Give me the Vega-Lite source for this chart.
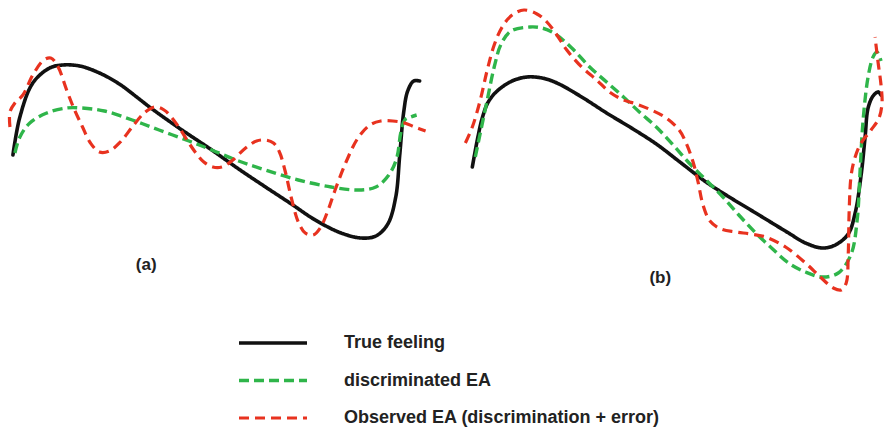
{
  "$schema": "https://vega.github.io/schema/vega-lite/v6.json",
  "width": 889,
  "height": 428,
  "autosize": {"type": "fit", "contains": "padding"},
  "padding": 0,
  "background": "white",
  "config": {"view": {"stroke": null}},
  "datasets": {
    "curves": [
      {"panel":"a","series":"True feeling","i":1,"x":13,"y":155},
      {"panel":"a","series":"True feeling","i":2,"x":20,"y":117},
      {"panel":"a","series":"True feeling","i":3,"x":33,"y":83},
      {"panel":"a","series":"True feeling","i":4,"x":50,"y":68},
      {"panel":"a","series":"True feeling","i":5,"x":63,"y":65},
      {"panel":"a","series":"True feeling","i":6,"x":80,"y":66},
      {"panel":"a","series":"True feeling","i":7,"x":100,"y":73},
      {"panel":"a","series":"True feeling","i":8,"x":120,"y":84},
      {"panel":"a","series":"True feeling","i":9,"x":140,"y":99},
      {"panel":"a","series":"True feeling","i":10,"x":153,"y":109},
      {"panel":"a","series":"True feeling","i":11,"x":180,"y":128},
      {"panel":"a","series":"True feeling","i":12,"x":213,"y":150},
      {"panel":"a","series":"True feeling","i":13,"x":240,"y":169},
      {"panel":"a","series":"True feeling","i":14,"x":267,"y":187},
      {"panel":"a","series":"True feeling","i":15,"x":293,"y":204},
      {"panel":"a","series":"True feeling","i":16,"x":317,"y":220},
      {"panel":"a","series":"True feeling","i":17,"x":343,"y":233},
      {"panel":"a","series":"True feeling","i":18,"x":363,"y":238},
      {"panel":"a","series":"True feeling","i":19,"x":378,"y":236},
      {"panel":"a","series":"True feeling","i":20,"x":390,"y":224},
      {"panel":"a","series":"True feeling","i":21,"x":398,"y":197},
      {"panel":"a","series":"True feeling","i":22,"x":402,"y":155},
      {"panel":"a","series":"True feeling","i":23,"x":406,"y":112},
      {"panel":"a","series":"True feeling","i":24,"x":410,"y":91},
      {"panel":"a","series":"True feeling","i":25,"x":416,"y":81},
      {"panel":"a","series":"True feeling","i":26,"x":422,"y":81},
      {"panel":"a","series":"discriminated EA","i":1,"x":15,"y":153},
      {"panel":"a","series":"discriminated EA","i":2,"x":20,"y":137},
      {"panel":"a","series":"discriminated EA","i":3,"x":30,"y":123},
      {"panel":"a","series":"discriminated EA","i":4,"x":47,"y":113},
      {"panel":"a","series":"discriminated EA","i":5,"x":67,"y":108},
      {"panel":"a","series":"discriminated EA","i":6,"x":82,"y":108},
      {"panel":"a","series":"discriminated EA","i":7,"x":105,"y":111},
      {"panel":"a","series":"discriminated EA","i":8,"x":133,"y":120},
      {"panel":"a","series":"discriminated EA","i":9,"x":160,"y":130},
      {"panel":"a","series":"discriminated EA","i":10,"x":190,"y":141},
      {"panel":"a","series":"discriminated EA","i":11,"x":213,"y":150},
      {"panel":"a","series":"discriminated EA","i":12,"x":240,"y":161},
      {"panel":"a","series":"discriminated EA","i":13,"x":267,"y":170},
      {"panel":"a","series":"discriminated EA","i":14,"x":300,"y":180},
      {"panel":"a","series":"discriminated EA","i":15,"x":333,"y":187},
      {"panel":"a","series":"discriminated EA","i":16,"x":360,"y":190},
      {"panel":"a","series":"discriminated EA","i":17,"x":378,"y":187},
      {"panel":"a","series":"discriminated EA","i":18,"x":391,"y":175},
      {"panel":"a","series":"discriminated EA","i":19,"x":399,"y":158},
      {"panel":"a","series":"discriminated EA","i":20,"x":403,"y":133},
      {"panel":"a","series":"discriminated EA","i":21,"x":407,"y":120},
      {"panel":"a","series":"discriminated EA","i":22,"x":413,"y":117},
      {"panel":"a","series":"discriminated EA","i":23,"x":419,"y":115},
      {"panel":"a","series":"Observed EA (discrimination + error)","i":1,"x":10,"y":127},
      {"panel":"a","series":"Observed EA (discrimination + error)","i":2,"x":10,"y":112},
      {"panel":"a","series":"Observed EA (discrimination + error)","i":3,"x":15,"y":103},
      {"panel":"a","series":"Observed EA (discrimination + error)","i":4,"x":23,"y":95},
      {"panel":"a","series":"Observed EA (discrimination + error)","i":5,"x":33,"y":75},
      {"panel":"a","series":"Observed EA (discrimination + error)","i":6,"x":44,"y":60},
      {"panel":"a","series":"Observed EA (discrimination + error)","i":7,"x":51,"y":58},
      {"panel":"a","series":"Observed EA (discrimination + error)","i":8,"x":58,"y":66},
      {"panel":"a","series":"Observed EA (discrimination + error)","i":9,"x":67,"y":90},
      {"panel":"a","series":"Observed EA (discrimination + error)","i":10,"x":75,"y":110},
      {"panel":"a","series":"Observed EA (discrimination + error)","i":11,"x":83,"y":127},
      {"panel":"a","series":"Observed EA (discrimination + error)","i":12,"x":91,"y":143},
      {"panel":"a","series":"Observed EA (discrimination + error)","i":13,"x":100,"y":152},
      {"panel":"a","series":"Observed EA (discrimination + error)","i":14,"x":110,"y":151},
      {"panel":"a","series":"Observed EA (discrimination + error)","i":15,"x":121,"y":142},
      {"panel":"a","series":"Observed EA (discrimination + error)","i":16,"x":133,"y":127},
      {"panel":"a","series":"Observed EA (discrimination + error)","i":17,"x":145,"y":113},
      {"panel":"a","series":"Observed EA (discrimination + error)","i":18,"x":156,"y":107},
      {"panel":"a","series":"Observed EA (discrimination + error)","i":19,"x":165,"y":110},
      {"panel":"a","series":"Observed EA (discrimination + error)","i":20,"x":173,"y":118},
      {"panel":"a","series":"Observed EA (discrimination + error)","i":21,"x":181,"y":129},
      {"panel":"a","series":"Observed EA (discrimination + error)","i":22,"x":190,"y":143},
      {"panel":"a","series":"Observed EA (discrimination + error)","i":23,"x":197,"y":153},
      {"panel":"a","series":"Observed EA (discrimination + error)","i":24,"x":205,"y":162},
      {"panel":"a","series":"Observed EA (discrimination + error)","i":25,"x":214,"y":167},
      {"panel":"a","series":"Observed EA (discrimination + error)","i":26,"x":223,"y":167},
      {"panel":"a","series":"Observed EA (discrimination + error)","i":27,"x":233,"y":161},
      {"panel":"a","series":"Observed EA (discrimination + error)","i":28,"x":247,"y":148},
      {"panel":"a","series":"Observed EA (discrimination + error)","i":29,"x":258,"y":141},
      {"panel":"a","series":"Observed EA (discrimination + error)","i":30,"x":267,"y":140},
      {"panel":"a","series":"Observed EA (discrimination + error)","i":31,"x":275,"y":143},
      {"panel":"a","series":"Observed EA (discrimination + error)","i":32,"x":281,"y":152},
      {"panel":"a","series":"Observed EA (discrimination + error)","i":33,"x":287,"y":172},
      {"panel":"a","series":"Observed EA (discrimination + error)","i":34,"x":293,"y":198},
      {"panel":"a","series":"Observed EA (discrimination + error)","i":35,"x":300,"y":222},
      {"panel":"a","series":"Observed EA (discrimination + error)","i":36,"x":307,"y":233},
      {"panel":"a","series":"Observed EA (discrimination + error)","i":37,"x":315,"y":235},
      {"panel":"a","series":"Observed EA (discrimination + error)","i":38,"x":322,"y":228},
      {"panel":"a","series":"Observed EA (discrimination + error)","i":39,"x":330,"y":210},
      {"panel":"a","series":"Observed EA (discrimination + error)","i":40,"x":337,"y":190},
      {"panel":"a","series":"Observed EA (discrimination + error)","i":41,"x":348,"y":162},
      {"panel":"a","series":"Observed EA (discrimination + error)","i":42,"x":360,"y":138},
      {"panel":"a","series":"Observed EA (discrimination + error)","i":43,"x":372,"y":125},
      {"panel":"a","series":"Observed EA (discrimination + error)","i":44,"x":383,"y":121},
      {"panel":"a","series":"Observed EA (discrimination + error)","i":45,"x":395,"y":121},
      {"panel":"a","series":"Observed EA (discrimination + error)","i":46,"x":407,"y":123},
      {"panel":"a","series":"Observed EA (discrimination + error)","i":47,"x":417,"y":127},
      {"panel":"a","series":"Observed EA (discrimination + error)","i":48,"x":428,"y":131},
      {"panel":"b","series":"True feeling","i":1,"x":475,"y":167},
      {"panel":"b","series":"True feeling","i":2,"x":480,"y":140},
      {"panel":"b","series":"True feeling","i":3,"x":485,"y":118},
      {"panel":"b","series":"True feeling","i":4,"x":491,"y":102},
      {"panel":"b","series":"True feeling","i":5,"x":500,"y":91},
      {"panel":"b","series":"True feeling","i":6,"x":515,"y":81},
      {"panel":"b","series":"True feeling","i":7,"x":530,"y":77},
      {"panel":"b","series":"True feeling","i":8,"x":545,"y":78},
      {"panel":"b","series":"True feeling","i":9,"x":560,"y":83},
      {"panel":"b","series":"True feeling","i":10,"x":585,"y":97},
      {"panel":"b","series":"True feeling","i":11,"x":610,"y":113},
      {"panel":"b","series":"True feeling","i":12,"x":635,"y":128},
      {"panel":"b","series":"True feeling","i":13,"x":660,"y":144},
      {"panel":"b","series":"True feeling","i":14,"x":685,"y":163},
      {"panel":"b","series":"True feeling","i":15,"x":710,"y":182},
      {"panel":"b","series":"True feeling","i":16,"x":735,"y":198},
      {"panel":"b","series":"True feeling","i":17,"x":760,"y":213},
      {"panel":"b","series":"True feeling","i":18,"x":793,"y":233},
      {"panel":"b","series":"True feeling","i":19,"x":810,"y":243},
      {"panel":"b","series":"True feeling","i":20,"x":827,"y":248},
      {"panel":"b","series":"True feeling","i":21,"x":840,"y":245},
      {"panel":"b","series":"True feeling","i":22,"x":853,"y":234},
      {"panel":"b","series":"True feeling","i":23,"x":860,"y":213},
      {"panel":"b","series":"True feeling","i":24,"x":866,"y":175},
      {"panel":"b","series":"True feeling","i":25,"x":870,"y":137},
      {"panel":"b","series":"True feeling","i":26,"x":873,"y":108},
      {"panel":"b","series":"True feeling","i":27,"x":878,"y":96},
      {"panel":"b","series":"True feeling","i":28,"x":883,"y":92},
      {"panel":"b","series":"True feeling","i":29,"x":886,"y":95},
      {"panel":"b","series":"discriminated EA","i":1,"x":478,"y":157},
      {"panel":"b","series":"discriminated EA","i":2,"x":483,"y":133},
      {"panel":"b","series":"discriminated EA","i":3,"x":490,"y":100},
      {"panel":"b","series":"discriminated EA","i":4,"x":497,"y":67},
      {"panel":"b","series":"discriminated EA","i":5,"x":504,"y":44},
      {"panel":"b","series":"discriminated EA","i":6,"x":514,"y":31},
      {"panel":"b","series":"discriminated EA","i":7,"x":533,"y":27},
      {"panel":"b","series":"discriminated EA","i":8,"x":545,"y":28},
      {"panel":"b","series":"discriminated EA","i":9,"x":557,"y":33},
      {"panel":"b","series":"discriminated EA","i":10,"x":575,"y":48},
      {"panel":"b","series":"discriminated EA","i":11,"x":593,"y":67},
      {"panel":"b","series":"discriminated EA","i":12,"x":610,"y":82},
      {"panel":"b","series":"discriminated EA","i":13,"x":627,"y":97},
      {"panel":"b","series":"discriminated EA","i":14,"x":643,"y":112},
      {"panel":"b","series":"discriminated EA","i":15,"x":660,"y":127},
      {"panel":"b","series":"discriminated EA","i":16,"x":677,"y":145},
      {"panel":"b","series":"discriminated EA","i":17,"x":693,"y":163},
      {"panel":"b","series":"discriminated EA","i":18,"x":710,"y":180},
      {"panel":"b","series":"discriminated EA","i":19,"x":727,"y":197},
      {"panel":"b","series":"discriminated EA","i":20,"x":743,"y":215},
      {"panel":"b","series":"discriminated EA","i":21,"x":760,"y":233},
      {"panel":"b","series":"discriminated EA","i":22,"x":777,"y":249},
      {"panel":"b","series":"discriminated EA","i":23,"x":793,"y":263},
      {"panel":"b","series":"discriminated EA","i":24,"x":810,"y":272},
      {"panel":"b","series":"discriminated EA","i":25,"x":827,"y":277},
      {"panel":"b","series":"discriminated EA","i":26,"x":843,"y":273},
      {"panel":"b","series":"discriminated EA","i":27,"x":856,"y":254},
      {"panel":"b","series":"discriminated EA","i":28,"x":862,"y":220},
      {"panel":"b","series":"discriminated EA","i":29,"x":865,"y":170},
      {"panel":"b","series":"discriminated EA","i":30,"x":868,"y":120},
      {"panel":"b","series":"discriminated EA","i":31,"x":873,"y":77},
      {"panel":"b","series":"discriminated EA","i":32,"x":878,"y":57},
      {"panel":"b","series":"discriminated EA","i":33,"x":882,"y":52},
      {"panel":"b","series":"discriminated EA","i":34,"x":886,"y":61},
      {"panel":"b","series":"Observed EA (discrimination + error)","i":1,"x":468,"y":143},
      {"panel":"b","series":"Observed EA (discrimination + error)","i":2,"x":475,"y":127},
      {"panel":"b","series":"Observed EA (discrimination + error)","i":3,"x":483,"y":100},
      {"panel":"b","series":"Observed EA (discrimination + error)","i":4,"x":490,"y":70},
      {"panel":"b","series":"Observed EA (discrimination + error)","i":5,"x":497,"y":45},
      {"panel":"b","series":"Observed EA (discrimination + error)","i":6,"x":505,"y":27},
      {"panel":"b","series":"Observed EA (discrimination + error)","i":7,"x":515,"y":15},
      {"panel":"b","series":"Observed EA (discrimination + error)","i":8,"x":527,"y":10},
      {"panel":"b","series":"Observed EA (discrimination + error)","i":9,"x":540,"y":14},
      {"panel":"b","series":"Observed EA (discrimination + error)","i":10,"x":550,"y":22},
      {"panel":"b","series":"Observed EA (discrimination + error)","i":11,"x":560,"y":35},
      {"panel":"b","series":"Observed EA (discrimination + error)","i":12,"x":570,"y":50},
      {"panel":"b","series":"Observed EA (discrimination + error)","i":13,"x":585,"y":67},
      {"panel":"b","series":"Observed EA (discrimination + error)","i":14,"x":600,"y":80},
      {"panel":"b","series":"Observed EA (discrimination + error)","i":15,"x":613,"y":92},
      {"panel":"b","series":"Observed EA (discrimination + error)","i":16,"x":627,"y":100},
      {"panel":"b","series":"Observed EA (discrimination + error)","i":17,"x":640,"y":104},
      {"panel":"b","series":"Observed EA (discrimination + error)","i":18,"x":655,"y":110},
      {"panel":"b","series":"Observed EA (discrimination + error)","i":19,"x":670,"y":118},
      {"panel":"b","series":"Observed EA (discrimination + error)","i":20,"x":683,"y":130},
      {"panel":"b","series":"Observed EA (discrimination + error)","i":21,"x":690,"y":143},
      {"panel":"b","series":"Observed EA (discrimination + error)","i":22,"x":697,"y":162},
      {"panel":"b","series":"Observed EA (discrimination + error)","i":23,"x":702,"y":182},
      {"panel":"b","series":"Observed EA (discrimination + error)","i":24,"x":707,"y":205},
      {"panel":"b","series":"Observed EA (discrimination + error)","i":25,"x":714,"y":221},
      {"panel":"b","series":"Observed EA (discrimination + error)","i":26,"x":725,"y":229},
      {"panel":"b","series":"Observed EA (discrimination + error)","i":27,"x":740,"y":232},
      {"panel":"b","series":"Observed EA (discrimination + error)","i":28,"x":755,"y":234},
      {"panel":"b","series":"Observed EA (discrimination + error)","i":29,"x":770,"y":237},
      {"panel":"b","series":"Observed EA (discrimination + error)","i":30,"x":790,"y":247},
      {"panel":"b","series":"Observed EA (discrimination + error)","i":31,"x":810,"y":263},
      {"panel":"b","series":"Observed EA (discrimination + error)","i":32,"x":825,"y":277},
      {"panel":"b","series":"Observed EA (discrimination + error)","i":33,"x":838,"y":288},
      {"panel":"b","series":"Observed EA (discrimination + error)","i":34,"x":846,"y":290},
      {"panel":"b","series":"Observed EA (discrimination + error)","i":35,"x":851,"y":283},
      {"panel":"b","series":"Observed EA (discrimination + error)","i":36,"x":853,"y":255},
      {"panel":"b","series":"Observed EA (discrimination + error)","i":37,"x":854,"y":210},
      {"panel":"b","series":"Observed EA (discrimination + error)","i":38,"x":856,"y":175},
      {"panel":"b","series":"Observed EA (discrimination + error)","i":39,"x":860,"y":157},
      {"panel":"b","series":"Observed EA (discrimination + error)","i":40,"x":866,"y":143},
      {"panel":"b","series":"Observed EA (discrimination + error)","i":41,"x":876,"y":130},
      {"panel":"b","series":"Observed EA (discrimination + error)","i":42,"x":884,"y":118},
      {"panel":"b","series":"Observed EA (discrimination + error)","i":43,"x":887,"y":103},
      {"panel":"b","series":"Observed EA (discrimination + error)","i":44,"x":886,"y":85},
      {"panel":"b","series":"Observed EA (discrimination + error)","i":45,"x":883,"y":62},
      {"panel":"b","series":"Observed EA (discrimination + error)","i":46,"x":880,"y":37}
    ],
    "labels": [
      {"label": "(a)", "x": 147, "y": 265},
      {"label": "(b)", "x": 664, "y": 278}
    ]
  },
  "layer": [
    {
      "data": {"name": "curves"},
      "transform": [{"filter": "datum.series === 'True feeling'"}],
      "mark": {"type": "line", "interpolate": "catmull-rom", "strokeCap": "round", "strokeJoin": "round"},
      "encoding": {
        "x": {"field": "x", "type": "quantitative", "scale": {"domain": [0, 889], "nice": false, "zero": false}, "axis": null},
        "y": {"field": "y", "type": "quantitative", "scale": {"domain": [0, 428], "nice": false, "zero": false, "reverse": true}, "axis": null},
        "detail": {"field": "panel"},
        "order": {"field": "i", "type": "quantitative"},
        "color": {"field": "series", "type": "nominal",
          "scale": {"domain": ["True feeling", "discriminated EA", "Observed EA (discrimination + error)"], "range": ["#111111", "#2fb54a", "#e8321f"]},
          "legend": {"orient": "none", "legendX": 237, "legendY": 333, "title": null, "symbolType": "stroke", "symbolSize": 4624, "clipHeight": 20, "rowPadding": 17.5, "labelFontSize": 18, "labelFont": "Liberation Sans", "labelFontWeight": "bold", "labelOffset": 35, "labelColor": "#222222", "padding": 0, "labelLimit": 0, "symbolDash": null}},
        "strokeDash": {"field": "series", "type": "nominal", "scale": {"domain": ["True feeling", "discriminated EA", "Observed EA (discrimination + error)"], "range": [[1, 0], [10, 5], [10, 6]]}},
        "strokeWidth": {"field": "series", "type": "nominal", "scale": {"domain": ["True feeling", "discriminated EA", "Observed EA (discrimination + error)"], "range": [3.6, 3.2, 2.6]}}
      }
    },
    {
      "data": {"name": "curves"},
      "transform": [{"filter": "datum.series === 'discriminated EA'"}],
      "mark": {"type": "line", "interpolate": "catmull-rom", "strokeCap": "butt"},
      "encoding": {
        "x": {"field": "x", "type": "quantitative"},
        "y": {"field": "y", "type": "quantitative"},
        "detail": {"field": "panel"},
        "order": {"field": "i", "type": "quantitative"},
        "color": {"field": "series", "type": "nominal"},
        "strokeDash": {"field": "series", "type": "nominal"},
        "strokeWidth": {"field": "series", "type": "nominal"}
      }
    },
    {
      "data": {"name": "curves"},
      "transform": [{"filter": "datum.series === 'Observed EA (discrimination + error)'"}],
      "mark": {"type": "line", "interpolate": "catmull-rom", "strokeCap": "butt"},
      "encoding": {
        "x": {"field": "x", "type": "quantitative"},
        "y": {"field": "y", "type": "quantitative"},
        "detail": {"field": "panel"},
        "order": {"field": "i", "type": "quantitative"},
        "color": {"field": "series", "type": "nominal"},
        "strokeDash": {"field": "series", "type": "nominal"},
        "strokeWidth": {"field": "series", "type": "nominal"}
      }
    },
    {
      "data": {"name": "labels"},
      "mark": {"type": "text", "font": "Liberation Sans", "fontWeight": "bold", "fontSize": 17, "color": "#222222", "align": "center", "baseline": "middle"},
      "encoding": {
        "x": {"field": "x", "type": "quantitative"},
        "y": {"field": "y", "type": "quantitative"},
        "text": {"field": "label"}
      }
    }
  ]
}
